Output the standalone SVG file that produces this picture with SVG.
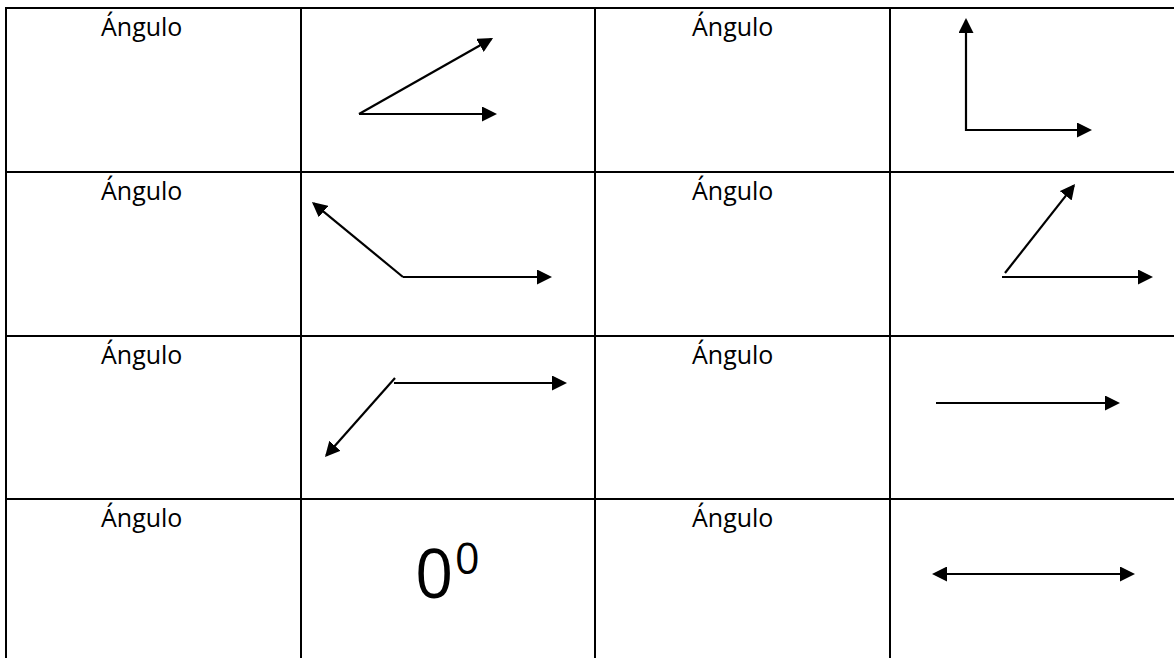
<svg xmlns="http://www.w3.org/2000/svg" width="1174" height="658" viewBox="0 0 1174 658">
  <style>
    .grid { stroke: #000; stroke-width: 2; fill: none; }
    .lbl { font-family: "Open Sans", "Liberation Sans", sans-serif; font-size: 25px; fill: #000; }
    .big { font-family: "Open Sans", "Liberation Sans", sans-serif; fill: #000; }
    .arr { stroke: #000; stroke-width: 2.2; fill: none; marker-end: url(#ah); }
  </style>
  <defs>
    <marker id="ah" markerUnits="userSpaceOnUse" markerWidth="15" markerHeight="15" refX="13" refY="7.5" orient="auto-start-reverse" viewBox="0 0 15 15">
      <path d="M0,0 L15,7.5 L0,15 Z" fill="#000"/>
    </marker>
  </defs>
  <rect width="1174" height="658" fill="#fff"/>
  <g id="table">
    <line class="grid" x1="5" y1="8" x2="1174" y2="8"/>
    <line class="grid" x1="5" y1="172" x2="1174" y2="172"/>
    <line class="grid" x1="5" y1="336" x2="1174" y2="336"/>
    <line class="grid" x1="5" y1="499" x2="1174" y2="499"/>
    <line class="grid" x1="6" y1="7" x2="6" y2="658"/>
    <line class="grid" x1="301" y1="7" x2="301" y2="658"/>
    <line class="grid" x1="595" y1="7" x2="595" y2="658"/>
    <line class="grid" x1="890" y1="7" x2="890" y2="658"/>
  </g>
  <g id="labels">
    <g id="label-r1c1"><text class="lbl" x="101" y="36">Ángulo</text></g>
    <g id="label-r1c3"><text class="lbl" x="692" y="36">Ángulo</text></g>
    <g id="label-r2c1"><text class="lbl" x="101" y="200">Ángulo</text></g>
    <g id="label-r2c3"><text class="lbl" x="692" y="200">Ángulo</text></g>
    <g id="label-r3c1"><text class="lbl" x="101" y="364">Ángulo</text></g>
    <g id="label-r3c3"><text class="lbl" x="692" y="364">Ángulo</text></g>
    <g id="label-r4c1"><text class="lbl" x="101" y="527">Ángulo</text></g>
    <g id="label-r4c3"><text class="lbl" x="692" y="527">Ángulo</text></g>
    <g id="zero-degrees">
      <text class="big" x="415" y="598" font-size="67">0</text>
      <text class="big" x="455" y="574" font-size="43">0</text>
    </g>
  </g>
  <g id="connectors">
    <g id="angle-acute">
      <line class="arr" x1="359" y1="114" x2="495" y2="114"/>
      <line class="arr" x1="359" y1="114" x2="491.3" y2="39"/>
    </g>
    <g id="angle-right">
      <line class="arr" x1="966" y1="131" x2="966" y2="20"/>
      <line class="arr" x1="966" y1="130" x2="1090" y2="130"/>
    </g>
    <g id="angle-obtuse">
      <line class="arr" x1="403" y1="277" x2="550" y2="277"/>
      <line class="arr" x1="403" y1="277" x2="313.5" y2="203.3"/>
    </g>
    <g id="angle-acute-2">
      <line class="arr" x1="1002" y1="277" x2="1151" y2="277"/>
      <line class="arr" x1="1005" y1="273" x2="1073.8" y2="185.6"/>
    </g>
    <g id="angle-reflex">
      <line class="arr" x1="394" y1="383" x2="565" y2="383"/>
      <line class="arr" x1="395" y1="378" x2="326.3" y2="455.5"/>
    </g>
    <g id="angle-zero">
      <line class="arr" x1="936" y1="403" x2="1118" y2="403"/>
    </g>
    <g id="angle-straight">
      <line class="arr" x1="934" y1="574" x2="1133" y2="574" marker-start="url(#ah)"/>
    </g>
  </g>
</svg>
